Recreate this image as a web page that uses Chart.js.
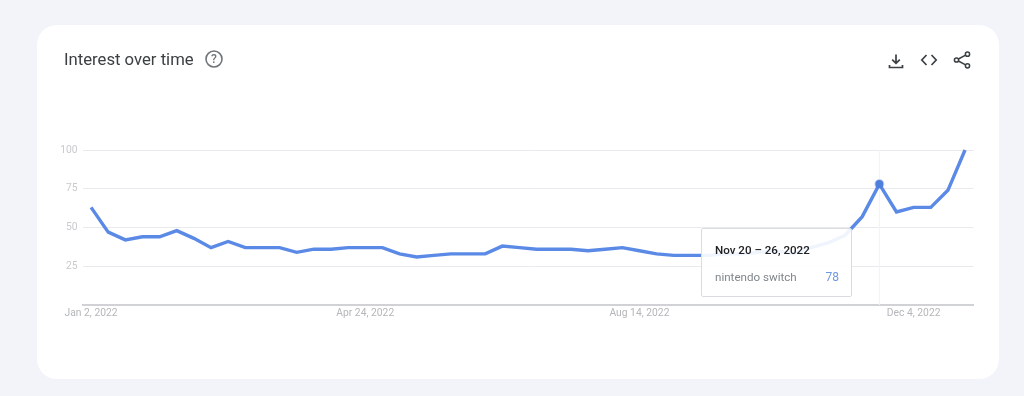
<!DOCTYPE html>
<html>
<head>
<meta charset="utf-8">
<script src="https://cdn.jsdelivr.net/npm/chart.js@4"></script>
<style>
html, body { margin: 0; padding: 0; width: 1024px; height: 396px; overflow: hidden; background: #f2f4fa; font-family: Roboto, sans-serif; }
.card { position: absolute; left: 37px; top: 25px; width: 962px; height: 354px; background: #fff; border-radius: 20px; }
#chart { position: absolute; left: 0; top: 0; }
.title { position: absolute; left: 64px; top: 50px; font-size: 16.7px; line-height: 20px; color: #3c4043; }
.icon { position: absolute; }
.tip { position: absolute; left: 701px; top: 228px; width: 149px; height: 67px; background: rgba(255,255,255,0.9); border: 1px solid #dadce0; border-radius: 2px; }
.tip-date { position: absolute; left: 13px; top: 14px; font-size: 11.6px; line-height: 14px; font-weight: 500; color: #202124; white-space: nowrap; }
.tip-name { position: absolute; left: 13px; top: 41px; font-size: 11.6px; line-height: 14px; color: #80868b; white-space: nowrap; }
.tip-val { position: absolute; right: 12px; top: 41px; font-size: 12px; line-height: 14px; color: #6f98e3; }
</style>
</head>
<body>
<div class="card"></div>
<canvas id="chart" width="1024" height="396"></canvas>
<div class="title">Interest over time</div>

<!-- help icon -->
<svg class="icon" style="left:205px;top:50px" width="18" height="18" viewBox="0 0 18 18">
  <circle cx="9" cy="9" r="8" fill="none" stroke="#70757a" stroke-width="1.6"/>
  <text x="9" y="13.2" text-anchor="middle" font-family="Roboto" font-size="12" font-weight="500" fill="#70757a">?</text>
</svg>
<!-- download -->
<svg class="icon" style="left:887px;top:52px" width="18" height="18" viewBox="0 0 18 18">
  <path d="M9 2.5V11M5.2 7.6L9 11.4l3.8-3.8M2.5 13v2.5h13V13" fill="none" stroke="#3c4043" stroke-width="1.7"/>
</svg>
<!-- embed -->
<svg class="icon" style="left:920px;top:51px" width="18" height="18" viewBox="0 0 18 18">
  <path d="M6.5 4L1.8 9l4.7 5M11.5 4l4.7 5-4.7 5" fill="none" stroke="#3c4043" stroke-width="1.7"/>
</svg>
<!-- share -->
<svg class="icon" style="left:953px;top:51px" width="18" height="18" viewBox="0 0 18 18">
  <path d="M3.5 9L14.5 3.2M3.5 9l11 5.8" stroke="#3c4043" stroke-width="1.5" fill="none"/>
  <circle cx="3.5" cy="9" r="2.1" fill="#fff" stroke="#3c4043" stroke-width="1.5"/>
  <circle cx="14.5" cy="3.2" r="2.1" fill="#fff" stroke="#3c4043" stroke-width="1.5"/>
  <circle cx="14.5" cy="14.8" r="2.1" fill="#fff" stroke="#3c4043" stroke-width="1.5"/>
</svg>

<div class="tip">
  <div class="tip-date" id="tip-date"></div>
  <div class="tip-name" id="tip-name"></div>
  <div class="tip-val" id="tip-val"></div>
</div>

<script>
// Chart data
var weeks = [
  'Jan 2', 'Jan 9', 'Jan 16', 'Jan 23', 'Jan 30', 'Feb 6', 'Feb 13', 'Feb 20', 'Feb 27',
  'Mar 6', 'Mar 13', 'Mar 20', 'Mar 27', 'Apr 3', 'Apr 10', 'Apr 17', 'Apr 24',
  'May 1', 'May 8', 'May 15', 'May 22', 'May 29', 'Jun 5', 'Jun 12', 'Jun 19', 'Jun 26',
  'Jul 3', 'Jul 10', 'Jul 17', 'Jul 24', 'Jul 31', 'Aug 7', 'Aug 14', 'Aug 21', 'Aug 28',
  'Sep 4', 'Sep 11', 'Sep 18', 'Sep 25', 'Oct 2', 'Oct 9', 'Oct 16', 'Oct 23', 'Oct 30',
  'Nov 6', 'Nov 13', 'Nov 20', 'Nov 27', 'Dec 4', 'Dec 11', 'Dec 18', 'Dec 25'
];
var interest = [
  63, 47, 42, 44, 44, 48, 43, 37, 41,
  37, 37, 37, 34, 36, 36, 37, 37,
  37, 33, 31, 32, 33, 33, 33, 38, 37,
  36, 36, 36, 35, 36, 37, 35, 33, 32,
  32, 32, 33, 33, 34, 35, 33, 37, 40,
  45, 57, 78, 60, 63, 63, 74, 100
];
var xTickWeeks = ['Jan 2', 'Apr 24', 'Aug 14', 'Dec 4'];
var yTicks = [25, 50, 75, 100];
var seriesName = 'nintendo switch';
var hoverWeek = 'Nov 20';
var hoverLabel = 'Nov 20 \u2013 26, 2022';

var hoverIndex = weeks.indexOf(hoverWeek);

document.getElementById('tip-date').textContent = hoverLabel;
document.getElementById('tip-name').textContent = seriesName;
document.getElementById('tip-val').textContent = interest[hoverIndex];

// faint vertical line under the hovered point
var hoverLine = {
  id: 'hoverLine',
  beforeDatasetsDraw: function (chart) {
    var x = chart.scales.x.getPixelForValue(hoverIndex);
    var ctx = chart.ctx;
    ctx.save();
    ctx.strokeStyle = '#f1f2f5';
    ctx.lineWidth = 1;
    ctx.beginPath();
    ctx.moveTo(x, chart.chartArea.top);
    ctx.lineTo(x, chart.chartArea.bottom);
    ctx.stroke();
    ctx.restore();
  }
};

var ctx = document.getElementById('chart').getContext('2d');
new Chart(ctx, {
  type: 'line',
  data: {
    labels: weeks,
    datasets: [{
      label: seriesName,
      data: interest,
      borderColor: '#5a8ae6',
      borderWidth: 3.4,
      borderJoinStyle: 'miter',
      tension: 0,
      clip: false,
      pointRadius: function (c) { return c.dataIndex === hoverIndex ? 4 : 0; },
      pointBackgroundColor: '#4f7fdc',
      pointBorderColor: 'rgba(79,127,220,0.3)',
      pointBorderWidth: 2
    }]
  },
  options: {
    responsive: false,
    animation: false,
    events: [],
    layout: { padding: { left: 0, top: 150, right: 50.4, bottom: 69 } },
    plugins: { legend: { display: false }, tooltip: { enabled: false } },
    scales: {
      x: {
        offset: true,
        afterFit: function (scale) { scale.height = 22; },
        grid: { display: false, drawTicks: false },
        border: { color: '#d0d2d5', width: 2 },
        ticks: {
          autoSkip: false,
          maxRotation: 0,
          padding: 2,
          color: '#b4b6b9',
          font: { family: 'Roboto', size: 10.3 },
          callback: function (value, i) {
            return xTickWeeks.indexOf(weeks[i]) >= 0 ? weeks[i] + ', 2022' : '';
          }
        }
      },
      y: {
        min: 0,
        max: 100,
        afterFit: function (scale) { scale.width = 82.5; },
        afterBuildTicks: function (scale) {
          scale.ticks = yTicks.map(function (v) { return { value: v }; });
        },
        grid: { color: '#e8eaed', lineWidth: 1, drawTicks: false },
        border: { display: false },
        ticks: {
          padding: 5,
          color: '#c8cacd',
          font: { family: 'Roboto', size: 10.3 }
        }
      }
    }
  },
  plugins: [hoverLine]
});
</script>
</body>
</html>
